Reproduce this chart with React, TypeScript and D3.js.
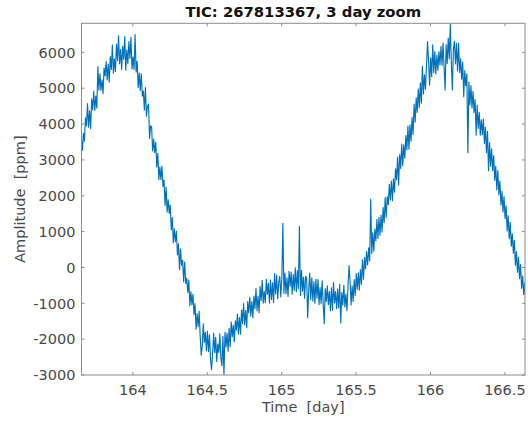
import React from "react";
import * as d3 from "d3";

// Light curve segment: relative flux in ppm, sampled every 10 minutes
const startDay = 163.64;
const cadenceDays = 1 / 144;

const amplitudePpm: number[] = [
  2950, 2640, 3600, 3270, 3740, 3520, 4170, 3950, 4570, 3910,
  4370, 3870, 4700, 4400, 4910, 4380, 4780, 4440, 5600, 4950,
  5400, 4940, 5230, 4850, 5560, 5340, 5740, 5230, 5670, 5170,
  5880, 5520, 6200, 5420, 5820, 5470, 6230, 5770, 6460, 5680,
  6080, 5520, 6170, 5810, 6440, 5500, 6070, 5690, 6300, 5830,
  6420, 5540, 5870, 5520, 6500, 5450, 5750, 5020, 5420, 4940,
  5400, 4780, 4920, 4390, 5020, 4220, 4490, 4560, 3600, 3950,
  3920, 3250, 3580, 3200, 3490, 2800, 3180, 2450, 2800, 2450,
  2830, 2250, 2440, 1730, 2240, 1550, 1890, 1510, 1750, 1050,
  1390, 690, 1080, 720, 1010, 350, 660, -60, 520, 60,
  200, -400, 150, -450, -300, -700, -350, -1070, -680, -1040,
  -750, -1320, -1010, -1720, -1290, -1650, -1220, -1920, -2450, -2200,
  -1570, -2090, -1810, -2320, -1780, -2350, -1880, -2550, -2850, -2400,
  -1830, -2370, -1950, -2620, -2140, -2370, -1850, -2510, -2740, -1920,
  -3000, -1810, -2220, -1830, -2340, -1700, -2210, -1520, -1930, -1610,
  -2070, -1490, -1750, -1300, -1860, -1400, -1860, -1190, -1560, -1010,
  -1600, -1200, -1680, -950, -1270, -830, -1360, -950, -1400, -800,
  -1150, -590, -1210, -800, -1260, -530, -920, -360, -1000, -670,
  -980, -330, -750, -440, -1000, -350, -890, -430, -980, -170,
  -740, -210, -870, -410, -250, -820, -300, 1230, -720, -160,
  -730, -290, -810, -110, -520, -130, -750, -200, -640, -10,
  -680, -90, -590, 1150, -780, -80, -660, -270, -860, -250,
  -300, -1400, -640, -160, -900, -290, -940, -400, -1000, -330,
  -850, -340, -1040, -560, -1010, -370, -1010, -1570, -590, -950,
  -510, -1040, -670, -1210, -570, -1190, -420, -990, -670, -1150,
  -600, -1130, -470, -1550, -700, -1050, -500, -1100, -740, -1210,
  -530, 50, -380, -1050, -510, -950, -340, -780, -170, -610,
  -150, -630, -60, -470, 210, -330, 280, -40, 440, 70,
  550, 180, 1910, 390, 970, 450, 1070, 740, 1340, 810,
  1400, 900, 1460, 990, 1670, 1250, 1950, 1400, 1980, 1750,
  2320, 1880, 2410, 1860, 2470, 2100, 2750, 2450, 3080, 2300,
  3150, 2760, 3440, 2840, 3420, 3050, 3680, 3280, 3940, 3300,
  3980, 3520, 4190, 3710, 4560, 4050, 4730, 4320, 4980, 4460,
  5150, 4580, 5610, 4840, 5370, 4970, 5660, 6300, 5730, 5090,
  5850, 5330, 6210, 5440, 6020, 5400, 5920, 5500, 6020, 5650,
  6170, 5640, 6260, 5580, 4950, 6220, 5690, 6400, 5820, 6780,
  5700, 4950, 6100, 6310, 5680, 6250, 5480, 6260, 5440, 5820,
  5250, 5730, 4760, 5490, 5070, 5400, 3200, 5170, 4530, 5070,
  4450, 4910, 4320, 4680, 3690, 4530, 3880, 4330, 3690, 4120,
  3700, 4140, 3460, 3910, 3200, 3800, 2700, 3480, 2820, 3310,
  2700, 3120, 2430, 2820, 2160, 2700, 2030, 2410, 1740, 2120,
  1550, 1980, 1360, 1720, 1020, 1450, 800, 1260, 590, 940,
  400, 760, 60, 440, -130, 280, -310, 80, -580, -240,
  -750, -430, -1020, -850,
];

const xTickValues = [164, 164.5, 165, 165.5, 166, 166.5];
const yTickValues = [-3000, -2000, -1000, 0, 1000, 2000, 3000, 4000, 5000, 6000];
const xDomain: [number, number] = [163.655, 166.635];
const yDomain: [number, number] = [-3000, 6810];

const titleText = "TIC: 267813367, 3 day zoom";
const xLabelText = "Time  [day]";
const yLabelText = "Amplitude  [ppm]";

const W = 528;
const H = 421;
const plot = { left: 81.5, right: 525, top: 23.3, bottom: 375 };

const FONT = "'DejaVu Sans', sans-serif";
const AXIS_COLOR = "#8c8c8c";
const TEXT_COLOR = "#4a4a4a";
const LINE_COLOR = "#0072BD";

export default function App() {
  const x = d3.scaleLinear().domain(xDomain).range([plot.left, plot.right]);
  const y = d3.scaleLinear().domain(yDomain).range([plot.bottom, plot.top]);

  const series = amplitudePpm.map((v, i) => ({ t: startDay + i * cadenceDays, v }));
  const path = d3
    .line<{ t: number; v: number }>()
    .x((d) => x(d.t))
    .y((d) => y(d.v))(series) as string;

  const tickLen = 3;
  const cx = (plot.left + plot.right) / 2;
  const cy = (plot.top + plot.bottom) / 2;

  return (
    <svg
      width={W}
      height={H}
      style={{ position: "absolute", left: 0, top: 0, background: "#fff" }}
      fontFamily={FONT}
    >
      <rect x={0} y={0} width={W} height={H} fill="#fff" />
      <defs>
        <clipPath id="plot-clip">
          <rect
            x={plot.left}
            y={plot.top}
            width={plot.right - plot.left}
            height={plot.bottom - plot.top}
          />
        </clipPath>
      </defs>

      <g clipPath="url(#plot-clip)">
        <path d={path} fill="none" stroke={LINE_COLOR} strokeWidth={1.15} strokeLinejoin="round" />
      </g>

      {/* axes box */}
      <rect
        x={plot.left}
        y={plot.top}
        width={plot.right - plot.left}
        height={plot.bottom - plot.top}
        fill="none"
        stroke={AXIS_COLOR}
        strokeWidth={1}
      />

      {/* x ticks (bottom and top, inward) and labels */}
      {xTickValues.map((t) => (
        <g key={"x" + t}>
          <line x1={x(t)} x2={x(t)} y1={plot.bottom} y2={plot.bottom - tickLen} stroke={AXIS_COLOR} />
          <line x1={x(t)} x2={x(t)} y1={plot.top} y2={plot.top + tickLen} stroke={AXIS_COLOR} />
          <text x={x(t)} y={395} textAnchor="middle" fontSize={14.5} fill={TEXT_COLOR}>
            {d3.format("")(t)}
          </text>
        </g>
      ))}

      {/* y ticks (left and right, inward) and labels */}
      {yTickValues.map((v) => (
        <g key={"y" + v}>
          <line x1={plot.left} x2={plot.left + tickLen} y1={y(v)} y2={y(v)} stroke={AXIS_COLOR} />
          <line x1={plot.right} x2={plot.right - tickLen} y1={y(v)} y2={y(v)} stroke={AXIS_COLOR} />
          <text x={plot.left - 6} y={y(v)} dy="0.36em" textAnchor="end" fontSize={14.5} fill={TEXT_COLOR}>
            {v}
          </text>
        </g>
      ))}

      <text x={cx} y={17} textAnchor="middle" fontSize={14.8} fontWeight="bold" fill="#111">
        {titleText}
      </text>
      <text x={cx} y={412} textAnchor="middle" fontSize={14.5} fill={TEXT_COLOR} style={{ whiteSpace: "pre" }}>
        {xLabelText}
      </text>
      <text
        transform={`translate(${25},${cy}) rotate(-90)`}
        textAnchor="middle"
        fontSize={14.5}
        fill={TEXT_COLOR}
        style={{ whiteSpace: "pre" }}
      >
        {yLabelText}
      </text>
    </svg>
  );
}
